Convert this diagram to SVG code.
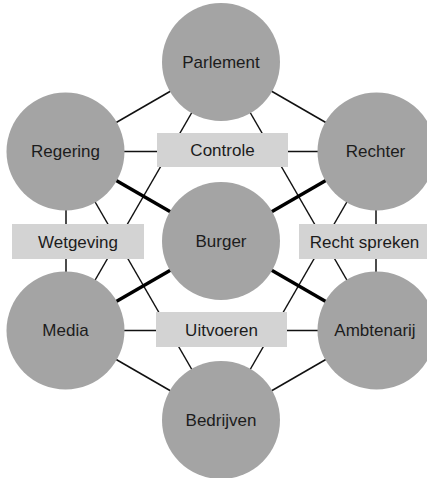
<svg xmlns="http://www.w3.org/2000/svg" width="427" height="478" viewBox="0 0 427 478">
<style>
.bg{fill:#ffffff}
.thin{stroke:#111;stroke-width:1.5;fill:none}
.thick{stroke:#000;stroke-width:3.4;fill:none}
.node circle{fill:#a4a4a4}
.box rect{fill:#d3d3d3}
text{font-family:"Liberation Sans",Arial,sans-serif;font-size:17px;fill:#1c1c1c;text-anchor:middle}
</style>
<rect class="bg" x="0" y="0" width="427" height="478"/>
<g id="connectors">
<line class="thin" x1="221" y1="62" x2="66" y2="151.5"/>
<line class="thin" x1="221" y1="62" x2="376" y2="151.5"/>
<line class="thin" x1="66" y1="151.5" x2="66" y2="330.5"/>
<line class="thin" x1="376" y1="151.5" x2="376" y2="330.5"/>
<line class="thin" x1="66" y1="330.5" x2="221" y2="420"/>
<line class="thin" x1="376" y1="330.5" x2="221" y2="420"/>
<line class="thin" x1="66" y1="151.5" x2="376" y2="151.5"/>
<line class="thin" x1="66" y1="330.5" x2="376" y2="330.5"/>
<line class="thin" x1="221" y1="62" x2="66" y2="330.5"/>
<line class="thin" x1="221" y1="62" x2="376" y2="330.5"/>
<line class="thin" x1="66" y1="151.5" x2="221" y2="420"/>
<line class="thin" x1="376" y1="151.5" x2="221" y2="420"/>
<line class="thick" x1="221" y1="241" x2="66" y2="151.5"/>
<line class="thick" x1="221" y1="241" x2="376" y2="151.5"/>
<line class="thick" x1="221" y1="241" x2="66" y2="330.5"/>
<line class="thick" x1="221" y1="241" x2="376" y2="330.5"/>
</g>
<g id="controle" class="box"><rect x="157" y="133" width="131" height="34"/><text x="222.5" y="156">Controle</text></g>
<g id="wetgeving" class="box"><rect x="12" y="224" width="132" height="35"/><text x="78" y="247.5">Wetgeving</text></g>
<g id="rechtspreken" class="box"><rect x="299" y="224" width="131" height="35"/><text x="364.5" y="247.5">Recht spreken</text></g>
<g id="uitvoeren" class="box"><rect x="156" y="312" width="131" height="35"/><text x="221.5" y="335.5">Uitvoeren</text></g>
<g id="parlement" class="node"><circle cx="221" cy="62" r="59"/><text x="221" y="67.5">Parlement</text></g>
<g id="regering" class="node"><circle cx="65.5" cy="151.5" r="59"/><text x="65.5" y="157">Regering</text></g>
<g id="rechter" class="node"><circle cx="376.5" cy="151.5" r="59"/><text x="375.5" y="157">Rechter</text></g>
<g id="burger" class="node"><circle cx="221" cy="241" r="59"/><text x="221" y="246.5">Burger</text></g>
<g id="media" class="node"><circle cx="65.5" cy="330.5" r="59"/><text x="65.5" y="336">Media</text></g>
<g id="ambtenarij" class="node"><circle cx="376.5" cy="330.5" r="59"/><text x="375" y="336">Ambtenarij</text></g>
<g id="bedrijven" class="node"><circle cx="221" cy="420" r="59"/><text x="221" y="425.5">Bedrijven</text></g>
</svg>
